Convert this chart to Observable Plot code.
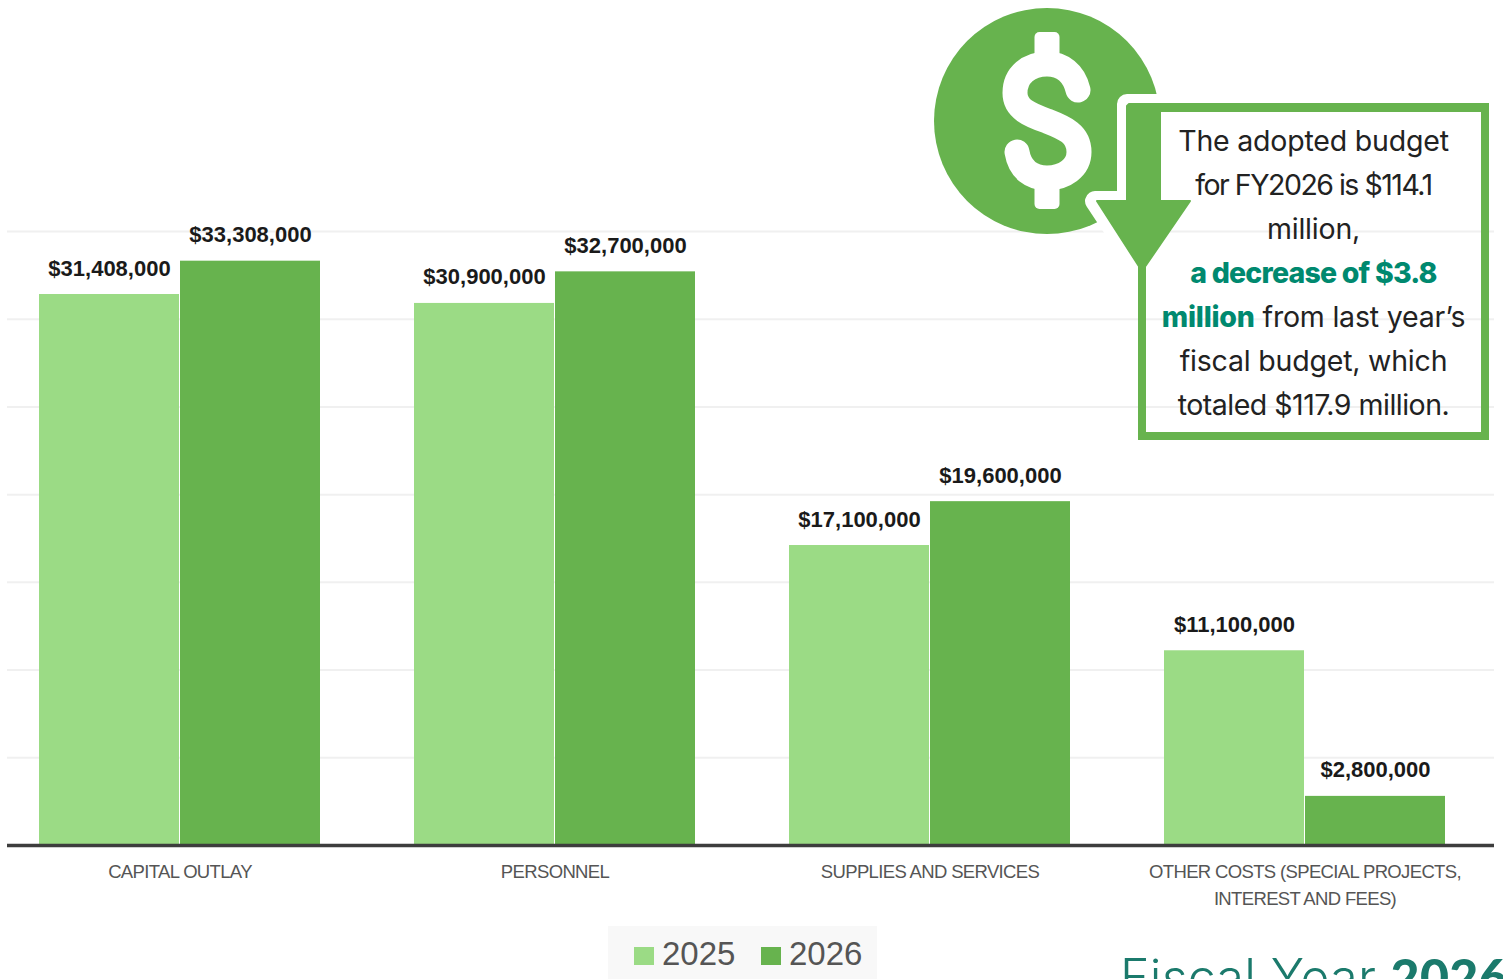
<!DOCTYPE html>
<html><head><meta charset="utf-8">
<script src="https://cdn.jsdelivr.net/npm/d3@7"></script>
<script src="https://cdn.jsdelivr.net/npm/@observablehq/plot@0.6"></script>
<style>
html,body{margin:0;padding:0;background:#fff;width:1503px;height:979px;overflow:hidden;position:relative}
#chart{position:absolute;left:0;top:0;width:1503px;height:979px}
#chart g[aria-label="x-axis tick label"]{letter-spacing:-.65px}
#icon{position:absolute;left:0;top:0;pointer-events:none}
#note{position:absolute;left:1138px;top:103px;width:351px;height:337px;box-sizing:border-box;padding-top:7px;text-align:center;font:400 28.5px/44px Inter,sans-serif;letter-spacing:-.2px;color:#222;white-space:nowrap;border:8px solid #67b34e;border-top-width:9px;border-left-width:8px}
#note b{color:#00896f;font-weight:800}
#legend{position:absolute;left:608px;top:926px;width:269px;height:53px;background:#f8f8f8;font:33px "Liberation Sans",sans-serif;color:#555}
#legend i{position:absolute;top:21px;width:20px;height:18px}
#legend span{position:absolute;top:9px}
#fy{position:absolute;left:1120px;top:946px;font:300 50px/60px Inter,sans-serif;color:#1b7a6c;white-space:nowrap;letter-spacing:.3px}
#fy b{font-family:Lato,sans-serif;font-weight:900}
</style></head><body>
<div id="chart"></div>
<svg id="icon" width="1503" height="979">
  <defs><clipPath id="haloClip"><rect x="0" y="0" width="1137" height="979"/><rect x="1137" y="0" width="40" height="104"/></clipPath></defs>
  <circle cx="1047" cy="121" r="113" fill="#67b34e"/>
  <rect x="1034.5" y="32" width="25" height="32" rx="5" fill="#fff"/>
  <rect x="1034.5" y="177" width="25" height="32" rx="5" fill="#fff"/>
  <path d="M1078 90C1074 73 1062 64 1047 64C1029 64 1015 75 1015 93C1015 109 1030 115 1047 121C1065 128 1079 134 1079 152C1079 168 1064 178 1047 178C1032 178 1020 170 1017 152" fill="none" stroke="#fff" stroke-width="25" stroke-linecap="round"/>
  <g clip-path="url(#haloClip)"><path d="M1127 104H1175V201H1191L1142 272L1095 201H1127Z" fill="#fff" stroke="#fff" stroke-width="20" stroke-linejoin="round"/></g>
</svg>
<div id="note">The adopted budget<br><span style="letter-spacing:-1.5px">for FY2026 is $114.1</span><br>million,<br><b style="letter-spacing:-.8px">a decrease of $3.8</b><br><b>million</b> from last year’s<br>fiscal budget, which<br><span style="letter-spacing:-.5px">totaled $117.9 million.</span></div>
<svg id="arrow" width="1503" height="979" style="position:absolute;left:0;top:0;pointer-events:none">
  <path d="M1129 104H1160V201H1190L1142 271L1097 201H1127V106Z" fill="#67b34e" stroke="#67b34e" stroke-width="2" stroke-linejoin="round"/>
</svg>
<div id="legend">
  <i style="left:26px;background:#9bdb85"></i><span style="left:54px">2025</span>
  <i style="left:153px;background:#67b34e"></i><span style="left:181px">2026</span>
</div>
<div id="fy">Fiscal Year <b>2026</b></div>
<script>
const categories = ["CAPITAL OUTLAY","PERSONNEL","SUPPLIES AND SERVICES","OTHER COSTS (SPECIAL PROJECTS,\nINTEREST AND FEES)"];
const values2025 = [31408000,30900000,17100000,11100000];
const values2026 = [33308000,32700000,19600000,2800000];
const gridTicks = [5000000,10000000,15000000,20000000,25000000,30000000,35000000];
const color2025 = "#9bdb85";
const color2026 = "#67b34e";

const rows2025 = categories.map((c,i)=>({category:c,value:values2025[i]}));
const rows2026 = categories.map((c,i)=>({category:c,value:values2026[i]}));
const money = d => "$" + d3.format(",")(d.value);
const labelStyle = {x:"category",y:"value",text:money,dy:-26,fontSize:22,fontWeight:700,fill:"#1a1a1a",fontFamily:"Liberation Sans",lineAnchor:"middle"};

const plot = Plot.plot({
  width:1503, height:979,
  marginTop:231, marginBottom:134, marginLeft:7, marginRight:9,
  style:{background:"transparent"},
  x:{domain:categories, range:[-54.75,1539], padding:0.25, label:null},
  y:{domain:[0,35000000], axis:null},
  marks:[
    Plot.ruleY(gridTicks,{stroke:"#f0f0f0",strokeWidth:2}),
    Plot.barY(rows2025,{x:"category",y:"value",fill:color2025,insetRight:141}),
    Plot.barY(rows2026,{x:"category",y:"value",fill:color2026,insetLeft:141}),
    Plot.text(rows2025,{...labelStyle,dx:-70.5}),
    Plot.text(rows2026,{...labelStyle,dx:70.5}),
    Plot.ruleY([0],{stroke:"#3d3d3d",strokeWidth:3.5}),
    Plot.axisX({anchor:"bottom",label:null,tickSize:0,tickPadding:13,lineHeight:1.47,fontSize:18.5,fontFamily:"Liberation Sans",fill:"#555",lineWidth:Infinity,textOverflow:null})
  ]
});
document.getElementById("chart").append(plot);
document.querySelectorAll('#chart g[aria-label="x-axis tick label"] text').forEach(t=>t.style.letterSpacing="-.65px");
</script>
</body></html>
